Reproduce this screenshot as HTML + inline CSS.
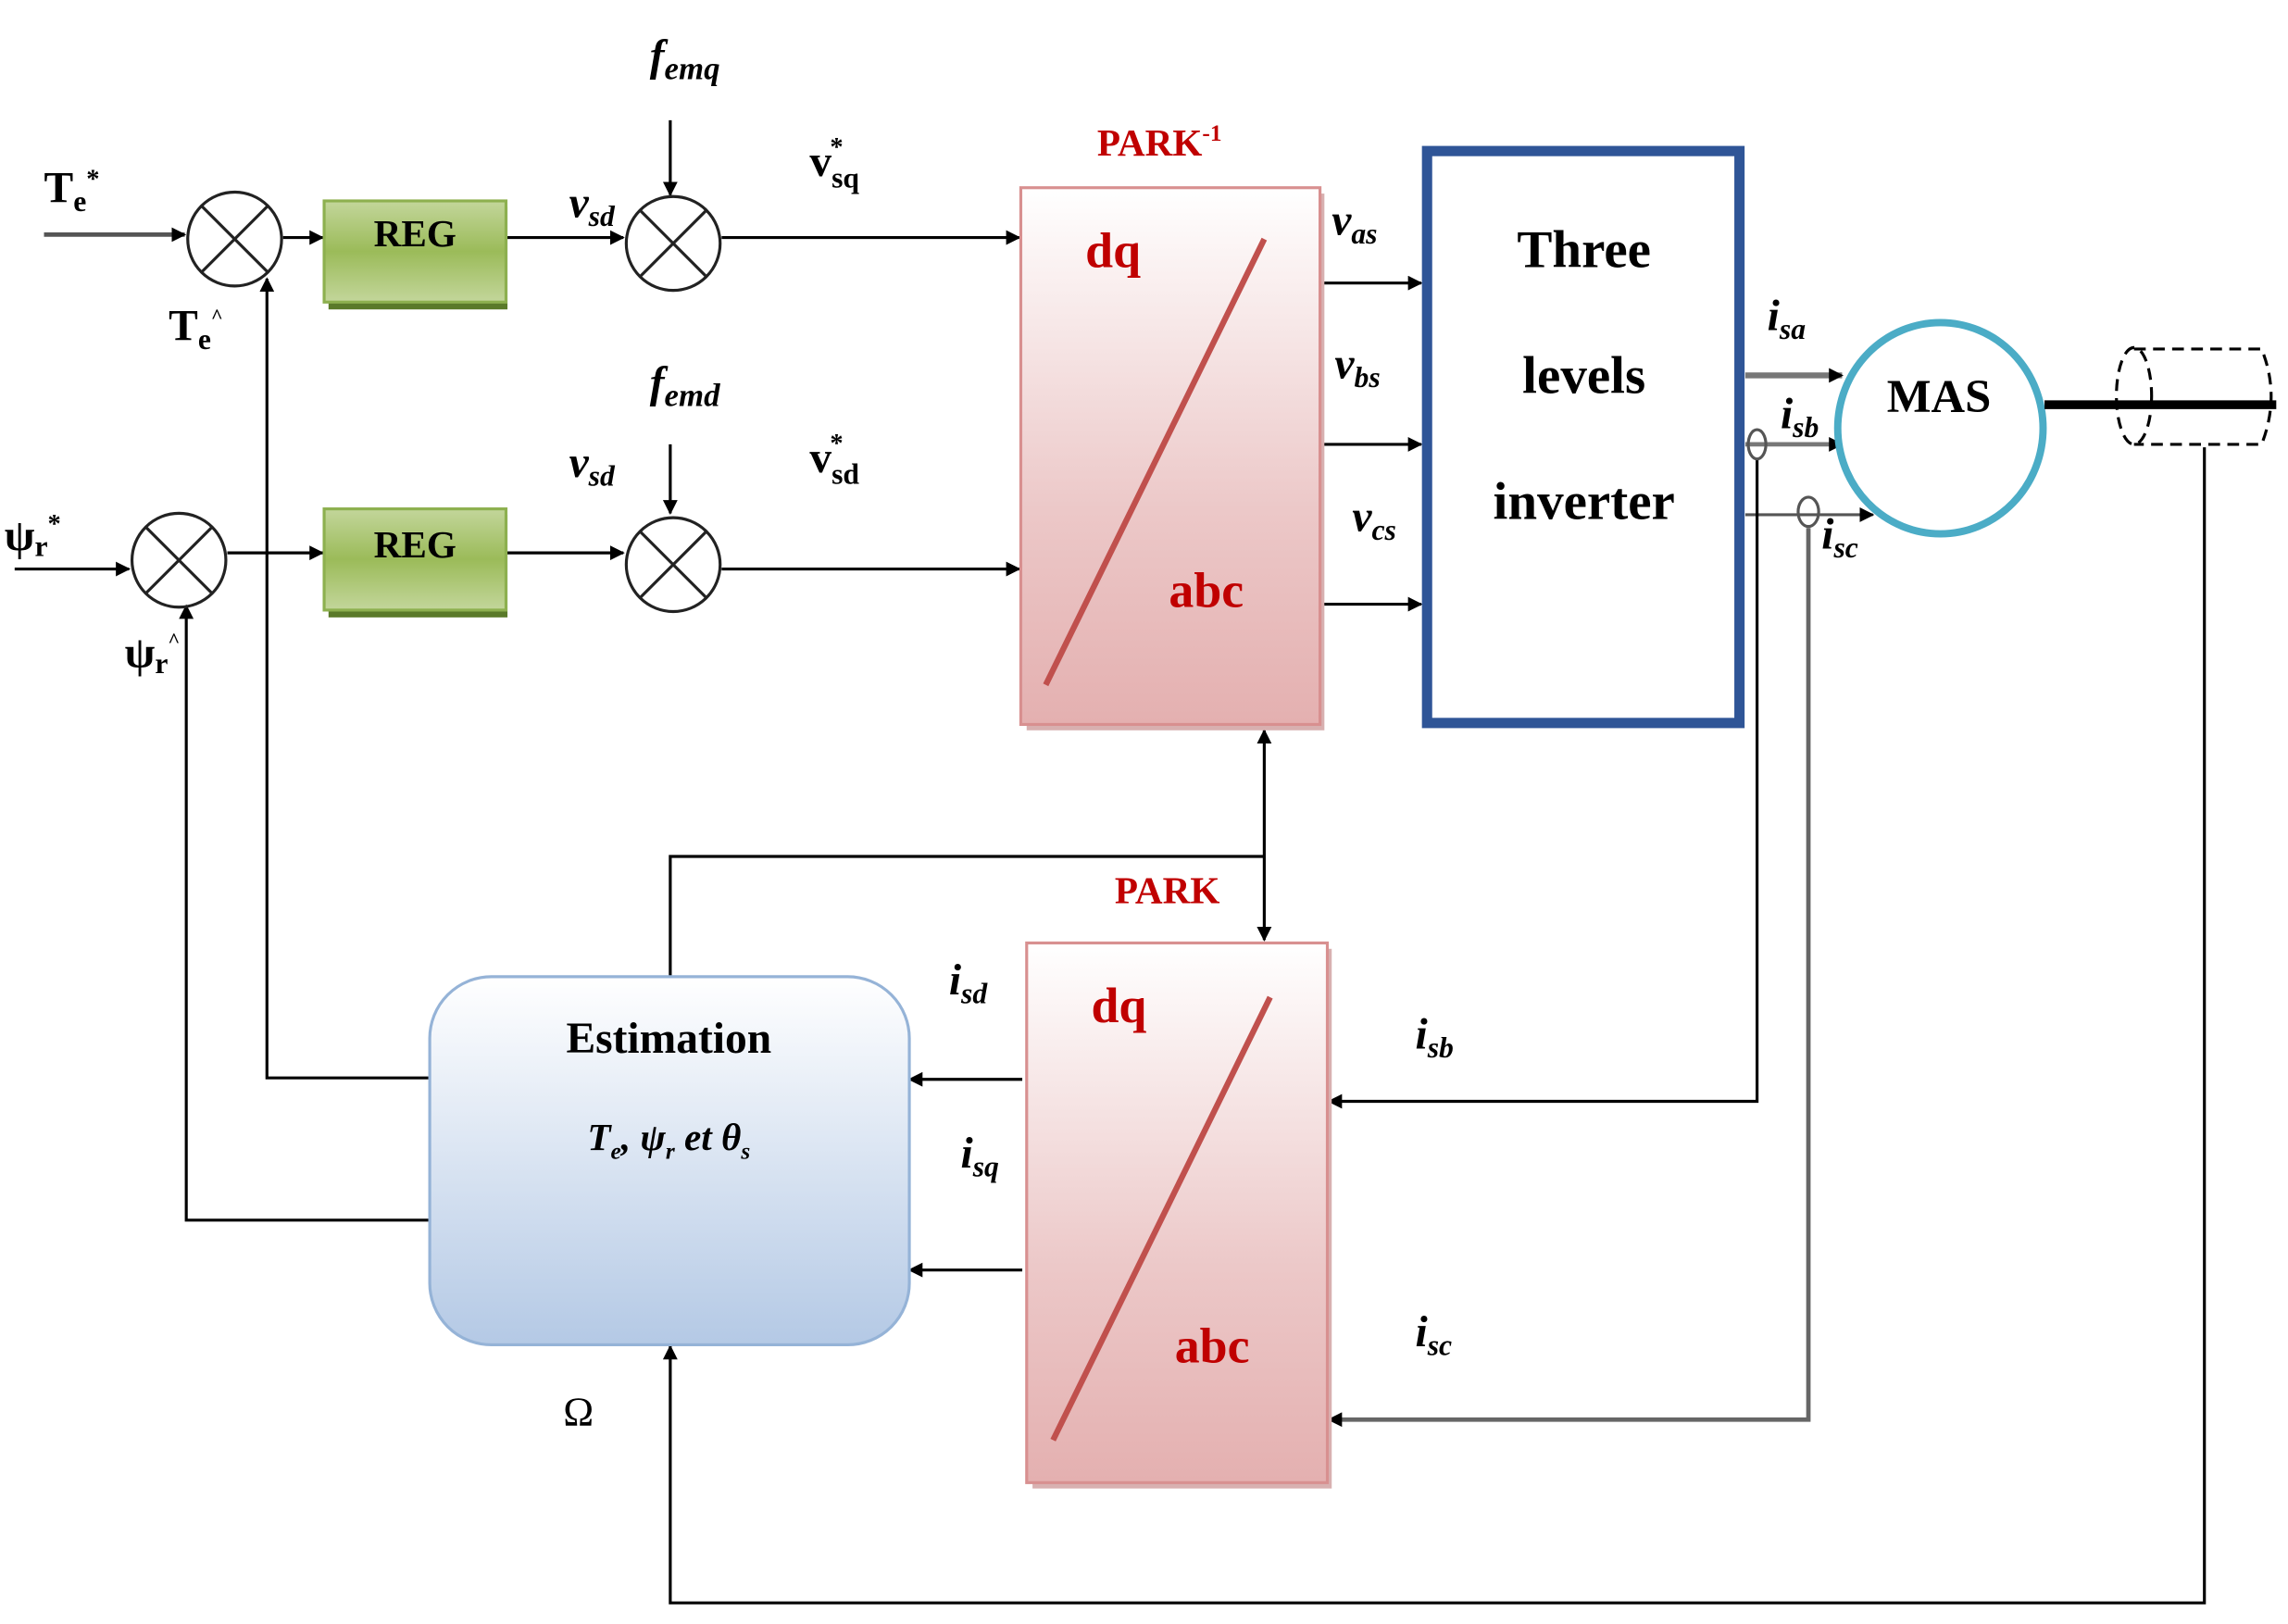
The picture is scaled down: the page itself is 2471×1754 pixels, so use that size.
<!DOCTYPE html>
<html><head><meta charset="utf-8"><style>html,body{margin:0;padding:0;background:#fff}svg{display:block}</style></head><body>
<svg width="2471" height="1754" viewBox="0 0 1560 1107.4" preserveAspectRatio="none" xmlns="http://www.w3.org/2000/svg" font-family="Liberation Serif, serif">
<defs>
<marker id="a" markerWidth="10" markerHeight="10" refX="9" refY="5" orient="auto" markerUnits="userSpaceOnUse"><path d="M0,0 L10,5 L0,10 z" fill="#000"/></marker>
<marker id="s" markerWidth="10" markerHeight="10" refX="1" refY="5" orient="auto" markerUnits="userSpaceOnUse"><path d="M10,0 L0,5 L10,10 z" fill="#000"/></marker>
<linearGradient id="g" x1="0" y1="0" x2="0" y2="1"><stop offset="0" stop-color="#c3d69b"/><stop offset="0.5" stop-color="#9bbb59"/><stop offset="1" stop-color="#c3d69b"/></linearGradient>
<linearGradient id="p" x1="0" y1="0" x2="0" y2="1"><stop offset="0" stop-color="#ffffff"/><stop offset="0.6" stop-color="#ecc8c8"/><stop offset="1" stop-color="#e4b0b0"/></linearGradient>
<linearGradient id="b" x1="0" y1="0" x2="0" y2="1"><stop offset="0" stop-color="#ffffff"/><stop offset="1" stop-color="#b4c9e5"/></linearGradient>
</defs>
<g stroke="#000" stroke-width="2" fill="none">
<line x1="30" y1="160" x2="126" y2="160" stroke="#555" stroke-width="3" marker-end="url(#a)"/>
<line x1="193" y1="162" x2="220" y2="162" marker-end="url(#a)"/>
<line x1="345" y1="162" x2="425" y2="162" marker-end="url(#a)"/>
<line x1="457" y1="82" x2="457" y2="133" marker-end="url(#a)"/>
<line x1="492" y1="162" x2="695" y2="162" marker-end="url(#a)"/>
<line x1="10" y1="388" x2="88" y2="388" marker-end="url(#a)"/>
<line x1="155" y1="377" x2="220" y2="377" marker-end="url(#a)"/>
<line x1="345" y1="377" x2="425" y2="377" marker-end="url(#a)"/>
<line x1="457" y1="303" x2="457" y2="350" marker-end="url(#a)"/>
<line x1="492" y1="388" x2="695" y2="388" marker-end="url(#a)"/>
<polyline points="293,735 182,735 182,190" marker-end="url(#a)"/>
<polyline points="293,832 127,832 127,413" marker-end="url(#a)"/>
<polyline points="457,666 457,584 862,584"/>
<line x1="862" y1="498" x2="862" y2="641" marker-start="url(#s)" marker-end="url(#a)"/>
<line x1="697" y1="736" x2="620" y2="736" marker-end="url(#a)"/>
<line x1="697" y1="866" x2="620" y2="866" marker-end="url(#a)"/>
<line x1="900" y1="193" x2="969" y2="193" marker-end="url(#a)"/>
<line x1="900" y1="303" x2="969" y2="303" marker-end="url(#a)"/>
<line x1="900" y1="412" x2="969" y2="412" marker-end="url(#a)"/>
<line x1="1190" y1="256" x2="1256" y2="256" stroke="#777" stroke-width="4" marker-end="url(#a)"/>
<line x1="1190" y1="303" x2="1256" y2="303" stroke="#777" stroke-width="3" marker-end="url(#a)"/>
<line x1="1190" y1="351" x2="1277" y2="351" stroke="#555" stroke-width="2" marker-end="url(#a)"/>
<polyline points="1198,313 1198,751 906,751" marker-end="url(#a)"/>
<polyline points="1233,360 1233,968 906,968" stroke="#666" stroke-width="3" marker-end="url(#a)"/>
<polyline points="1503,305 1503,1093 457,1093 457,918" marker-end="url(#a)"/>
<ellipse cx="1198" cy="303" rx="6" ry="10" stroke="#555"/>
<ellipse cx="1233" cy="349" rx="7" ry="10" stroke="#555"/>
<g stroke="#222" stroke-width="2">
<circle cx="160" cy="163" r="32"/><line x1="137" y1="140" x2="183" y2="186"/><line x1="183" y1="140" x2="137" y2="186"/>
<circle cx="459" cy="166" r="32"/><line x1="436" y1="143" x2="482" y2="189"/><line x1="482" y1="143" x2="436" y2="189"/>
<circle cx="122" cy="382" r="32"/><line x1="99" y1="359" x2="145" y2="405"/><line x1="145" y1="359" x2="99" y2="405"/>
<circle cx="459" cy="385" r="32"/><line x1="436" y1="362" x2="482" y2="408"/><line x1="482" y1="362" x2="436" y2="408"/>
</g>
</g>
<rect x="224" y="141" width="122" height="70" fill="#5a7a2a"/>
<rect x="221" y="137" width="124" height="69" fill="url(#g)" stroke="#8db04f" stroke-width="2"/>
<rect x="224" y="351" width="122" height="70" fill="#5a7a2a"/>
<rect x="221" y="347" width="124" height="69" fill="url(#g)" stroke="#8db04f" stroke-width="2"/>
<text x="283" y="168" font-size="26" font-weight="bold" text-anchor="middle">REG</text>
<text x="283" y="380" font-size="26" font-weight="bold" text-anchor="middle">REG</text>
<rect x="700" y="132" width="203" height="366" fill="#d8b0b0"/>
<rect x="696" y="128" width="204" height="366" fill="url(#p)" stroke="#d89090" stroke-width="2"/>
<line x1="862" y1="163" x2="713" y2="467" stroke="#c0504d" stroke-width="4"/>
<rect x="704" y="647" width="204" height="368" fill="#d8b0b0"/>
<rect x="700" y="643" width="205" height="368" fill="url(#p)" stroke="#d89090" stroke-width="2"/>
<line x1="866" y1="680" x2="718" y2="982" stroke="#c0504d" stroke-width="4"/>
<g fill="#c00000" font-weight="bold">
<text x="748" y="106" font-size="26">PARK<tspan font-size="16" dy="-10">-1</tspan></text>
<text x="760" y="616" font-size="26">PARK</text>
<text x="740" y="182" font-size="34">dq</text>
<text x="797" y="414" font-size="34">abc</text>
<text x="744" y="697" font-size="34">dq</text>
<text x="801" y="929" font-size="34">abc</text>
</g>
<rect x="973" y="103" width="213" height="390" fill="#fff" stroke="#2f5597" stroke-width="7"/>
<g font-size="36" font-weight="bold" text-anchor="middle">
<text x="1080" y="182">Three</text><text x="1080" y="268">levels</text><text x="1080" y="354">inverter</text>
</g>
<ellipse cx="1323" cy="292" rx="70" ry="72" fill="#fff" stroke="#4bacc6" stroke-width="5"/>
<text x="1322" y="281" font-size="32" font-weight="bold" text-anchor="middle">MAS</text>
<line x1="1394" y1="276" x2="1552" y2="276" stroke="#000" stroke-width="6"/>
<g fill="none" stroke="#000" stroke-width="2" stroke-dasharray="8,5">
<path d="M1455,238 L1542,238 Q1555,270 1542,303 L1455,303"/>
<ellipse cx="1455" cy="270" rx="12" ry="33"/>
</g>
<rect x="293" y="666" width="327" height="251" rx="42" fill="url(#b)" stroke="#95b3d7" stroke-width="2"/>
<text x="456" y="718" font-size="30" font-weight="bold" text-anchor="middle">Estimation</text>
<text x="456" y="784" font-size="26" font-weight="bold" font-style="italic" text-anchor="middle">T<tspan font-size="16" dy="6">e</tspan><tspan dy="-6">, ψ</tspan><tspan font-size="16" dy="6">r</tspan><tspan dy="-6"> et θ</tspan><tspan font-size="16" dy="6">s</tspan></text>
<g font-size="30" font-weight="bold">
<text x="30" y="138">T<tspan font-size="20" dy="6">e</tspan><tspan font-size="18" dy="-16">*</tspan></text>
<text x="115" y="232">T<tspan font-size="20" dy="6">e</tspan><tspan font-size="14" dy="-18">^</tspan></text>
<text x="3" y="375">ψ<tspan font-size="20" dy="4">r</tspan><tspan font-size="18" dy="-16">*</tspan></text>
<text x="85" y="455">ψ<tspan font-size="20" dy="4">r</tspan><tspan font-size="14" dy="-18">^</tspan></text>
<text x="552" y="120">v<tspan font-size="20" dy="8">sq</tspan><tspan font-size="18" dx="-20" dy="-22">*</tspan></text>
<text x="552" y="322">v<tspan font-size="20" dy="8">sd</tspan><tspan font-size="18" dx="-20" dy="-22">*</tspan></text>
</g>
<g font-size="30" font-style="italic" font-weight="bold">
<text x="443" y="48">f<tspan font-size="22" dy="6">emq</tspan></text>
<text x="443" y="271">f<tspan font-size="22" dy="6">emd</tspan></text>
<text x="388" y="148">v<tspan font-size="20" dy="6">sd</tspan></text>
<text x="388" y="325">v<tspan font-size="20" dy="6">sd</tspan></text>
<text x="908" y="160">v<tspan font-size="20" dy="6">as</tspan></text>
<text x="910" y="258">v<tspan font-size="20" dy="6">bs</tspan></text>
<text x="922" y="362">v<tspan font-size="20" dy="6">cs</tspan></text>
<text x="1205" y="225">i<tspan font-size="20" dy="6">sa</tspan></text>
<text x="1214" y="292">i<tspan font-size="20" dy="6">sb</tspan></text>
<text x="1242" y="374">i<tspan font-size="20" dy="6">sc</tspan></text>
<text x="647" y="678">i<tspan font-size="20" dy="6">sd</tspan></text>
<text x="655" y="796">i<tspan font-size="20" dy="6">sq</tspan></text>
<text x="965" y="715">i<tspan font-size="20" dy="6">sb</tspan></text>
<text x="965" y="918">i<tspan font-size="20" dy="6">sc</tspan></text>
</g>
<text x="384" y="972" font-size="28">Ω</text>
</svg>
</body></html>
